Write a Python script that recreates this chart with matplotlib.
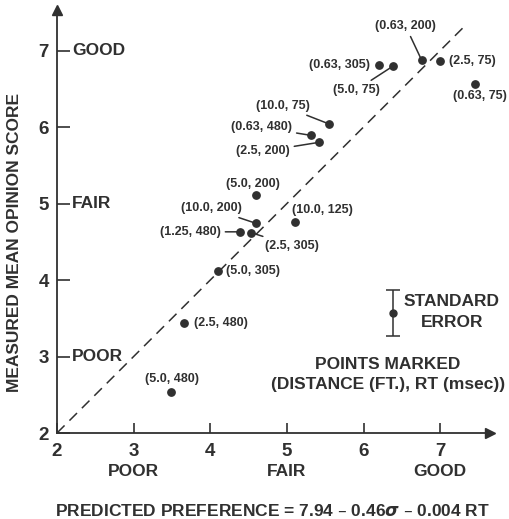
import matplotlib.pyplot as plt
from matplotlib.transforms import blended_transform_factory

plt.rcParams["font.family"] = ["Liberation Sans", "DejaVu Sans"]
plt.rcParams["font.weight"] = "bold"

ink = "#303030"

# Predicted vs measured scores, labelled (distance ft, RT msec)
labels = ["(0.63, 200)", "(2.5, 75)", "(0.63, 75)", "(0.63, 305)", "(5.0, 75)",
          "(10.0, 75)", "(0.63, 480)", "(2.5, 200)", "(5.0, 200)", "(10.0, 125)",
          "(10.0, 200)", "(1.25, 480)", "(2.5, 305)", "(5.0, 305)", "(2.5, 480)",
          "(5.0, 480)"]
predicted = [6.76, 7.00, 7.45, 6.20, 6.39, 5.55, 5.32, 5.42, 4.60, 5.11,
             4.60, 4.39, 4.53, 4.10, 3.66, 3.49]
measured = [6.87, 6.86, 6.56, 6.81, 6.80, 6.04, 5.89, 5.80, 5.11, 4.76,
            4.74, 4.63, 4.62, 4.12, 3.44, 2.53]

# label offsets in pixels (dx, dy), alignment, leader line
label_pos = [(-16, 34, "center", True), (9, 0, "left", False), (5, -12, "center", False),
             (-9, 0, "right", False), (-37, -24, "center", True), (-46, 18, "center", True),
             (-19, 8, "right", True), (-29, -9, "right", True), (-3, 11, "center", False),
             (27, 12, "center", False), (-45, 15, "center", True), (-19, 0, "right", True),
             (41, -13, "center", True), (8, 0, "left", False), (10, 0, "left", False),
             (1, 13, "center", False)]

ticks = [2, 3, 4, 5, 6, 7]
ratings = {3: "POOR", 5: "FAIR", 7: "GOOD"}

# standard error bar
se_x = 6.38
se_y = 3.57
se_err = 0.30

fig = plt.figure(figsize=(5.09, 5.19), dpi=100)
ax = fig.add_axes([57 / 509, 86 / 519, 433 / 509, 423 / 519])
ax.set_xlim(2, 7.65)
ax.set_ylim(2, 7.53)

for s in ["top", "right"]:
    ax.spines[s].set_visible(False)
for s in ["left", "bottom"]:
    ax.spines[s].set_color(ink)
    ax.spines[s].set_linewidth(1.3)

ax.plot(1, 0, ">", color=ink, ms=7, transform=ax.transAxes, clip_on=False)
ax.plot(0, 1, "^", color=ink, ms=7, transform=ax.transAxes, clip_on=False)

ax.set_xticks(ticks)
ax.set_yticks(ticks)
ax.tick_params(axis="x", direction="in", length=7, width=1.2, pad=7,
               colors=ink, labelsize=13.5)
ax.tick_params(axis="y", direction="in", length=9, width=1.2, pad=6,
               colors=ink, labelsize=13.5)
ax.set_xticklabels([str(t) for t in ticks])
ax.set_yticklabels([str(t) for t in ticks])

# rating words beside the axes
xtr = blended_transform_factory(ax.transData, ax.transAxes)
for v, word in ratings.items():
    ax.text(v, -0.092, word, transform=xtr, ha="center", va="center",
            fontsize=12.5, color=ink)
    ax.text(2.2, v, word, ha="left", va="center", fontsize=12.5, color=ink)

# line of perfect agreement
ax.plot([2, 7.3], [2, 7.3], "--", color=ink, lw=1.1, dashes=(7, 4.5))

ax.scatter(predicted, measured, s=28, color=ink, zorder=3)

for lab, x, y, (dx, dy, ha, lead) in zip(labels, predicted, measured, label_pos):
    arrow = dict(arrowstyle="-", color=ink, lw=1.1, shrinkA=1, shrinkB=2) if lead else None
    ax.annotate(lab, (x, y), xytext=(dx, dy), textcoords="offset pixels",
                ha=ha, va="center", fontsize=9, color=ink, arrowprops=arrow)

ax.errorbar([se_x], [se_y], yerr=[se_err], fmt="o", ms=5, color=ink,
            capsize=5, elinewidth=1.1, capthick=1.1)
ax.text(6.52, 3.72, "STANDARD", ha="left", va="center", fontsize=12.5, color=ink)
ax.text(7.15, 3.44, "ERROR", ha="center", va="center", fontsize=12.5, color=ink)
ax.text(6.32, 2.89, "POINTS MARKED", ha="center", va="center", fontsize=12.5, color=ink)
ax.text(6.32, 2.63, "(DISTANCE (FT.), RT (msec))", ha="center", va="center",
        fontsize=12.5, color=ink)

fig.text(15 / 509, 1 - 242 / 519, "MEASURED MEAN OPINION SCORE", rotation=90,
         ha="center", va="center", fontsize=12.5, color=ink)
fig.text(272 / 509, 1 - 511 / 519,
         "PREDICTED PREFERENCE = 7.94 \u2013 0.46$\\sigma$ \u2013 0.004 RT",
         ha="center", va="center", fontsize=12.5, color=ink)

fig.savefig("out.png", dpi=100)
